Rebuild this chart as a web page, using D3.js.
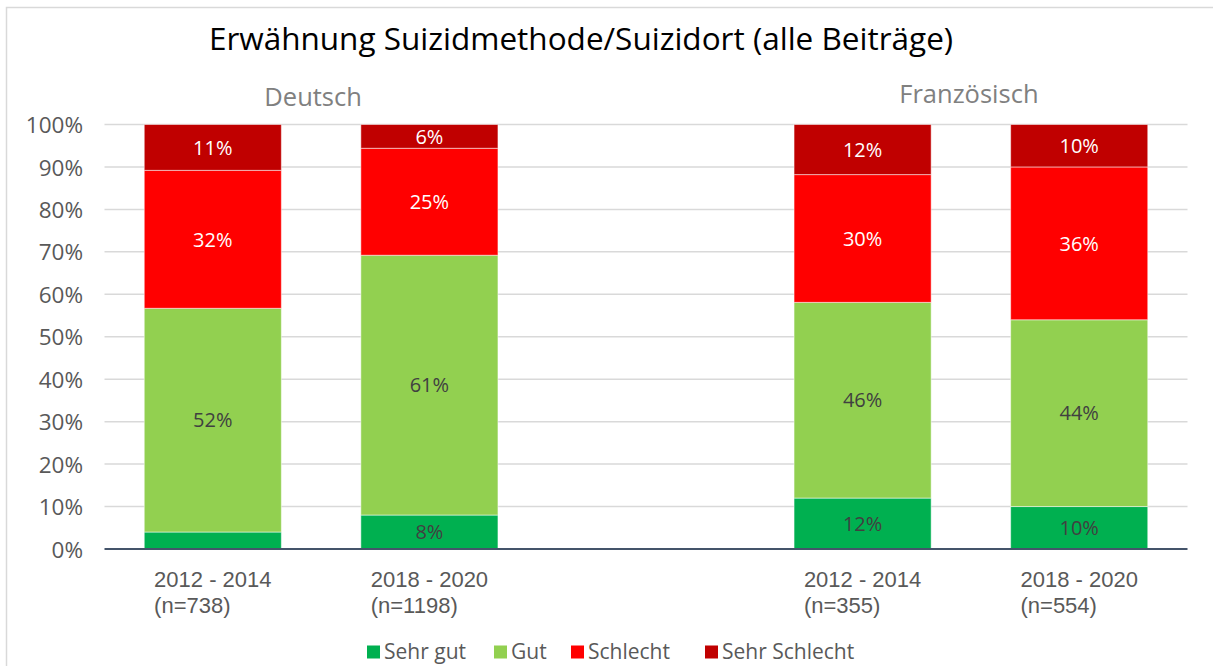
<!DOCTYPE html>
<html>
<head>
<meta charset="utf-8">
<script src="https://cdn.jsdelivr.net/npm/d3@7"></script>
<style>
  html, body { margin: 0; padding: 0; background: #ffffff; }
  svg { display: block; font-family: "Open Sans", "Liberation Sans", Arial, sans-serif; }
</style>
</head>
<body>
<svg id="chart" width="1213" height="666"></svg>
<script>
// ---- data ----
const chartTitle = "Erwähnung Suizidmethode/Suizidort (alle Beiträge)";
const languages = ["Deutsch", "Deutsch", "Französisch", "Französisch"];
const periods = ["2012 - 2014", "2018 - 2020", "2012 - 2014", "2018 - 2020"];
const sampleSizes = ["(n=738)", "(n=1198)", "(n=355)", "(n=554)"];
const seriesNames = ["Sehr gut", "Gut", "Schlecht", "Sehr Schlecht"];
const sehrGut = [4.0, 8.0, 12.0, 10.0];
const gut = [52.7, 61.2, 46.1, 44.0];
const schlecht = [32.5, 25.2, 30.1, 36.0];
const sehrSchlecht = [10.8, 5.6, 11.8, 10.0];
const sehrGutLabels = ["", "8%", "12%", "10%"];
const gutLabels = ["52%", "61%", "46%", "44%"];
const schlechtLabels = ["32%", "25%", "30%", "36%"];
const sehrSchlechtLabels = ["11%", "6%", "12%", "10%"];
const yTicks = [0, 10, 20, 30, 40, 50, 60, 70, 80, 90, 100];

// ---- styling ----
const colors = ["#00B050", "#92D050", "#FF0000", "#C00000"];
const labelColors = ["#404040", "#404040", "#ffffff", "#ffffff"];
const FONT = '"Open Sans", "Liberation Sans", Arial, sans-serif';
const FONT_TIGHT = '"Liberation Sans", Arial, sans-serif';

const svg = d3.select("#chart");
const plot = { left: 104.5, right: 1187.5, top: 124.5, bottom: 549 };

// frame
svg.append("rect").attr("x", 6.5).attr("y", 7.5).attr("width", 1300).attr("height", 700)
  .attr("fill", "#fff").attr("stroke", "#d9d9d9").attr("stroke-width", 1.5);

// build rows with a gap slot between language groups
const rows = periods.map((p, i) => ({
  id: languages[i] + "|" + p,
  lang: languages[i], period: p, n: sampleSizes[i],
  values: [sehrGut[i], gut[i], schlecht[i], sehrSchlecht[i]],
  labels: [sehrGutLabels[i], gutLabels[i], schlechtLabels[i], sehrSchlechtLabels[i]]
}));
const domain = [];
rows.forEach((r, i) => {
  if (i > 0 && r.lang !== rows[i - 1].lang) domain.push("gap");
  domain.push(r.id);
});

const x = d3.scaleBand().domain(domain).range([plot.left, plot.right])
  .paddingInner(0.367).paddingOuter(0.1835);
const y = d3.scaleLinear().domain([0, 100]).range([plot.bottom, plot.top]);

// gridlines
svg.append("g").selectAll("line").data(yTicks.filter(t => t > 0)).join("line")
  .attr("x1", plot.left).attr("x2", plot.right)
  .attr("y1", d => y(d)).attr("y2", d => y(d))
  .attr("stroke", "#d9d9d9").attr("stroke-width", 1.5);

// y axis labels
const yAxis = d3.axisLeft(y).tickValues(yTicks).tickFormat(d => d + "%").tickSize(0).tickPadding(0);
const yg = svg.append("g").attr("transform", `translate(${83},0)`).call(yAxis);
yg.select(".domain").remove();
yg.selectAll("text").attr("fill", "#595959").style("font-size", "22.5px")
  .style("font-family", FONT).attr("dy", "0.36em");

// stacked bars
const segs = rows.flatMap(r => {
  let acc = 0;
  return r.values.map((v, k) => {
    const seg = { row: r, k, y0: acc, y1: acc + v, label: r.labels[k] };
    acc += v;
    return seg;
  });
});

svg.append("g").selectAll("rect").data(segs).join("rect")
  .attr("x", d => x(d.row.id))
  .attr("width", x.bandwidth())
  .attr("y", d => y(d.y1))
  .attr("height", d => y(d.y0) - y(d.y1))
  .attr("fill", d => colors[d.k])
  .attr("stroke", "#ffffff").attr("stroke-opacity", 0.5).attr("stroke-width", 1);

svg.append("g").selectAll("text").data(segs.filter(d => d.label)).join("text")
  .attr("x", d => x(d.row.id) + x.bandwidth() / 2)
  .attr("y", d => (y(d.y0) + y(d.y1)) / 2)
  .attr("dy", "0.36em")
  .attr("text-anchor", "middle")
  .attr("fill", d => labelColors[d.k])
  .style("font-size", "20px")
  .text(d => d.label);

// baseline axis
svg.append("line").attr("x1", plot.left).attr("x2", plot.right)
  .attr("y1", y(0)).attr("y2", y(0))
  .attr("stroke", "#44546A").attr("stroke-width", 2);

// x category labels: first line centred, second line left-aligned to it
const xg = svg.append("g").style("font-family", FONT_TIGHT);
rows.forEach(r => {
  const cx = x(r.id) + x.bandwidth() / 2;
  const t1 = xg.append("text").attr("x", cx).attr("y", 587).attr("text-anchor", "middle")
    .attr("fill", "#595959").style("font-size", "22px").text(r.period);
  const w = t1.node().getComputedTextLength();
  xg.append("text").attr("x", cx - w / 2).attr("y", 613).attr("text-anchor", "start")
    .attr("fill", "#595959").style("font-size", "22px").text(r.n);
});

// group labels
const groups = Array.from(new Set(languages));
const groupOffsets = { "Deutsch": { dx: -8, y: 106 }, "Französisch": { dx: -2, y: 103 } };
groups.forEach(g => {
  const ids = rows.filter(r => r.lang === g).map(r => r.id);
  const x0 = x(ids[0]), x1 = x(ids[ids.length - 1]) + x.bandwidth();
  const o = groupOffsets[g];
  svg.append("text").attr("x", (x0 + x1) / 2 + o.dx).attr("y", o.y)
    .attr("text-anchor", "middle").attr("fill", "#808080")
    .style("font-size", "25.5px").text(g);
});

// title
svg.append("text").attr("x", 581).attr("y", 50).attr("text-anchor", "middle")
  .attr("fill", "#000000").style("font-size", "31.5px").text(chartTitle);

// legend
const legendX = [367, 494, 571, 705];
const lg = svg.append("g");
seriesNames.forEach((name, k) => {
  lg.append("rect").attr("x", legendX[k]).attr("y", 645.5).attr("width", 13).attr("height", 13)
    .attr("fill", colors[k]);
  lg.append("text").attr("x", legendX[k] + 17).attr("y", 659).attr("fill", "#595959")
    .style("font-size", "21px").text(name);
});
</script>
</body>
</html>
